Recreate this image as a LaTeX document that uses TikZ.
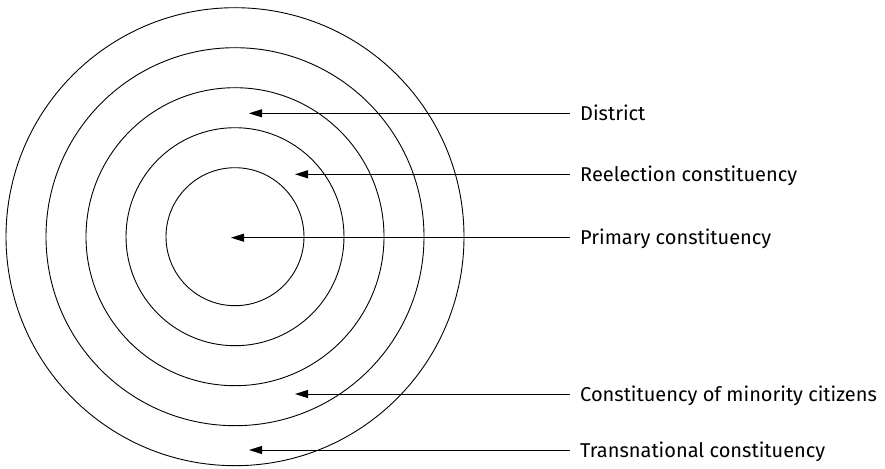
\documentclass[tikz,border=0pt]{standalone}
\usepackage{fontspec}
\setmainfont{Fira Sans}
\usetikzlibrary{arrows.meta}
\begin{document}
\begin{tikzpicture}[x=1pt,y=-1pt,
  ring/.style={draw=black,line width=0.9pt},
  pointer/.style={draw=black,line width=0.9pt,{Triangle[length=13pt,width=8pt]}-},
  label/.style={anchor=base west,inner sep=0pt,font=\fontsize{20}{24}\selectfont}]
\useasboundingbox (0,0) rectangle (885,468);
\coordinate (c) at (235,236.7);
\foreach \r in {69,109,149,189,229} {\draw[ring] (c) circle[radius=\r];}
\node[label] (d) at (580,120.5) {District};
\node[label] (r) at (580,181.5) {Reelection constituency};
\node[label] (p) at (580,244.9) {Primary constituency};
\node[label] (m) at (580,401.2) {Constituency of minority citizens};
\node[label] (t) at (580,457.2) {Transnational constituency};
\coordinate (dt) at (249,113.3);
\coordinate (rt) at (295,174.3);
\coordinate (pt) at (231,237.7);
\coordinate (mt) at (295,394);
\coordinate (tt) at (249,450);
\coordinate (de) at (570,113.3);
\coordinate (re) at (570,174.3);
\coordinate (pe) at (570,237.7);
\coordinate (me) at (570,394);
\coordinate (te) at (570,450);
\draw[pointer] (dt) -- (de);
\draw[pointer] (rt) -- (re);
\draw[pointer] (pt) -- (pe);
\draw[pointer] (mt) -- (me);
\draw[pointer] (tt) -- (te);
\end{tikzpicture}
\end{document}
